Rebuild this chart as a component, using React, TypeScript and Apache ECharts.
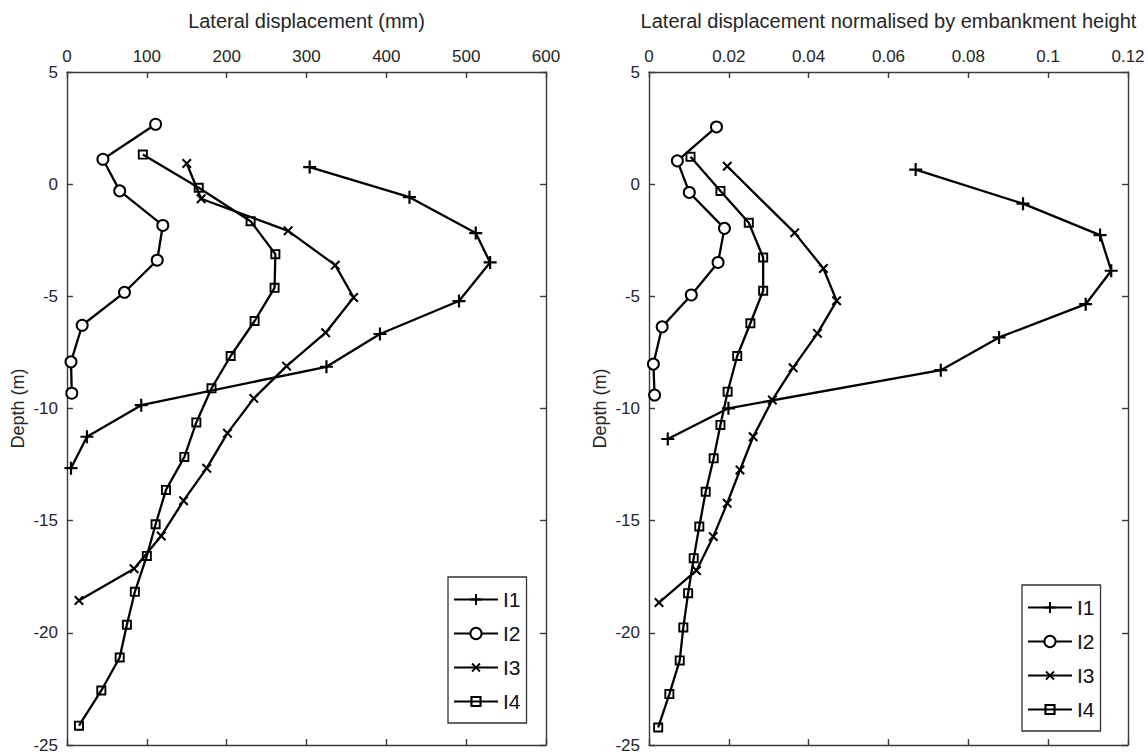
import React, { useEffect, useRef } from "react";
import * as echarts from "echarts";

// ---------- Data ----------
const SERIES_NAMES = ["I1", "I2", "I3", "I4"];

// Left panel: lateral displacement (mm) vs depth (m)
const L_I1_DEPTH = [0.76, -0.58, -2.18, -3.49, -5.21, -6.68, -8.14, -9.85, -11.26, -12.66];
const L_I1_MM = [304, 429, 512, 530, 491, 392, 325, 93, 25, 5];

const L_I2_DEPTH = [2.67, 1.11, -0.3, -1.84, -3.39, -4.82, -6.29, -7.92, -9.32];
const L_I2_MM = [111, 45, 66, 120, 113, 72, 19, 5, 6];

const L_I3_DEPTH = [0.92, -0.65, -2.08, -3.61, -5.05, -6.62, -8.11, -9.55, -11.1, -12.66, -14.11, -15.68, -17.14, -18.56];
const L_I3_MM = [150, 168, 277, 336, 359, 324, 275, 234, 201, 175, 146, 118, 84, 15];

const L_I4_DEPTH = [1.32, -0.16, -1.65, -3.12, -4.62, -6.1, -7.66, -9.1, -10.62, -12.16, -13.63, -15.16, -16.57, -18.17, -19.64, -21.1, -22.57, -24.14];
const L_I4_MM = [95, 165, 230, 261, 260, 235, 205, 181, 162, 147, 124, 111, 100, 85, 75, 66, 43, 15];

// Right panel: displacement normalised by embankment height vs depth (m)
const R_I1_DEPTH = [0.65, -0.87, -2.27, -3.86, -5.35, -6.83, -8.29, -9.99, -11.36];
const R_I1_NORM = [0.0668, 0.0937, 0.113, 0.1158, 0.1094, 0.0877, 0.0731, 0.0199, 0.0047];

const R_I2_DEPTH = [2.55, 1.04, -0.37, -1.97, -3.49, -4.94, -6.36, -8.02, -9.4];
const R_I2_NORM = [0.0169, 0.0071, 0.0101, 0.0189, 0.0173, 0.0106, 0.0033, 0.0011, 0.0014];

const R_I3_DEPTH = [0.8, -2.17, -3.76, -5.2, -6.65, -8.18, -9.62, -11.26, -12.74, -14.22, -15.71, -17.22, -18.65];
const R_I3_NORM = [0.0196, 0.0365, 0.0437, 0.047, 0.0422, 0.0361, 0.0309, 0.0261, 0.0228, 0.0196, 0.0161, 0.0119, 0.0025];

const R_I4_DEPTH = [1.22, -0.3, -1.72, -3.27, -4.75, -6.2, -7.66, -9.25, -10.73, -12.22, -13.71, -15.26, -16.67, -18.23, -19.76, -21.23, -22.73, -24.22];
const R_I4_NORM = [0.0104, 0.0179, 0.025, 0.0286, 0.0286, 0.0254, 0.0221, 0.0197, 0.0179, 0.0162, 0.0142, 0.0126, 0.0112, 0.0098, 0.0086, 0.0077, 0.0051, 0.0023];

// Axis ranges / tick spacing
const DEPTH_MIN = -25;
const DEPTH_MAX = 5;
const DEPTH_STEP = 5;
const MM_MIN = 0;
const MM_MAX = 600;
const MM_STEP = 100;
const NORM_MIN = 0;
const NORM_MAX = 0.12;
const NORM_STEP = 0.02;

const LEFT_X_TITLE = "Lateral displacement (mm)";
const RIGHT_X_TITLE = "Lateral displacement normalised by embankment height";
const Y_TITLE = "Depth (m)";

// ---------- Styling ----------
const FONT = "'Liberation Sans', Arial, Helvetica, sans-serif";
const AXIS_COLOR = "#3a3a3a";
const TEXT_COLOR = "#262626";

const PLUS = "path://M5.4,0H7.6V5.4H13V7.6H7.6V13H5.4V7.6H0V5.4H5.4Z";
const HOLLOW_SQUARE = "path://M0,0H10V10H0Z M1.9,1.9V8.1H8.1V1.9Z";

const MARKERS: Record<string, { symbol: string; size: number; rotate: number; filled: boolean }> = {
  I1: { symbol: PLUS, size: 13, rotate: 0, filled: true },
  I2: { symbol: "emptyCircle", size: 11, rotate: 0, filled: false },
  I3: { symbol: PLUS, size: 12, rotate: 45, filled: true },
  I4: { symbol: HOLLOW_SQUARE, size: 10, rotate: 0, filled: true },
};

const pair = (xs: number[], ys: number[]) => xs.map((x, i) => [x, ys[i]]);

function makeSeries(name: string, data: number[][], xi: number, yi: number) {
  const m = MARKERS[name];
  return {
    name,
    type: "line",
    xAxisIndex: xi,
    yAxisIndex: yi,
    data,
    symbol: m.symbol,
    symbolSize: m.size,
    symbolRotate: m.rotate,
    showAllSymbol: true,
    lineStyle: { color: "#000", width: 2.3 },
    itemStyle: { color: "#000", borderColor: "#000", borderWidth: m.filled ? 0 : 2 },
    emphasis: { disabled: true },
    z: 3,
  };
}

function xAxisPair(grid: number, min: number, max: number, step: number, title: string) {
  const common = {
    gridIndex: grid,
    type: "value",
    min,
    max,
    interval: step,
    splitLine: { show: false },
    axisLine: { show: true, onZero: false, lineStyle: { color: AXIS_COLOR, width: 1.4 } },
    axisTick: { show: true, inside: true, length: 6, lineStyle: { color: AXIS_COLOR, width: 1.4 } },
  };
  return [
    {
      ...common,
      position: "top",
      axisLabel: { show: true, fontSize: 17, color: TEXT_COLOR, margin: 7, fontFamily: FONT },
      name: title,
      nameLocation: "middle",
      nameGap: 41,
      nameTextStyle: { fontSize: 20, color: TEXT_COLOR, fontFamily: FONT },
    },
    { ...common, position: "bottom", axisLabel: { show: false } },
  ];
}

function yAxisPair(grid: number) {
  const common = {
    gridIndex: grid,
    type: "value",
    min: DEPTH_MIN,
    max: DEPTH_MAX,
    interval: DEPTH_STEP,
    splitLine: { show: false },
    axisLine: { show: true, onZero: false, lineStyle: { color: AXIS_COLOR, width: 1.4 } },
    axisTick: { show: true, inside: true, length: 6, lineStyle: { color: AXIS_COLOR, width: 1.4 } },
  };
  return [
    {
      ...common,
      position: "left",
      axisLabel: { show: true, fontSize: 17, color: TEXT_COLOR, margin: 9, fontFamily: FONT },
      name: Y_TITLE,
      nameLocation: "middle",
      nameGap: 40,
      nameRotate: 90,
      nameTextStyle: { fontSize: 18, color: TEXT_COLOR, fontFamily: FONT },
    },
    { ...common, position: "right", axisLabel: { show: false } },
  ];
}

function legendAt(left: number, top: number) {
  return {
    data: SERIES_NAMES,
    orient: "vertical",
    left,
    top,
    height: 140,
    padding: [12, 6, 11, 5],
    itemWidth: 44,
    itemHeight: 14,
    itemGap: 13,
    borderColor: "#333",
    borderWidth: 1.3,
    borderRadius: 0,
    backgroundColor: "#fff",
    selectedMode: false,
    textStyle: { fontSize: 21, color: "#111", fontFamily: FONT },
  };
}

export default function App() {
  const ref = useRef<HTMLDivElement>(null);

  useEffect(() => {
    document.body.style.margin = "0";
    if (!ref.current) return;
    const chart = echarts.init(ref.current, undefined, { renderer: "svg" });

    const option = {
      animation: false,
      backgroundColor: "#fff",
      textStyle: { fontFamily: FONT },
      grid: [
        { left: 67, top: 72, width: 479, height: 673 },
        { left: 649, top: 72, width: 479, height: 673 },
      ],
      xAxis: [
        ...xAxisPair(0, MM_MIN, MM_MAX, MM_STEP, LEFT_X_TITLE),
        ...xAxisPair(1, NORM_MIN, NORM_MAX, NORM_STEP, RIGHT_X_TITLE),
      ],
      yAxis: [...yAxisPair(0), ...yAxisPair(1)],
      legend: [legendAt(448, 577), legendAt(1022, 585)],
      series: [
        makeSeries("I1", pair(L_I1_MM, L_I1_DEPTH), 0, 0),
        makeSeries("I2", pair(L_I2_MM, L_I2_DEPTH), 0, 0),
        makeSeries("I3", pair(L_I3_MM, L_I3_DEPTH), 0, 0),
        makeSeries("I4", pair(L_I4_MM, L_I4_DEPTH), 0, 0),
        makeSeries("I1", pair(R_I1_NORM, R_I1_DEPTH), 2, 2),
        makeSeries("I2", pair(R_I2_NORM, R_I2_DEPTH), 2, 2),
        makeSeries("I3", pair(R_I3_NORM, R_I3_DEPTH), 2, 2),
        makeSeries("I4", pair(R_I4_NORM, R_I4_DEPTH), 2, 2),
      ],
    };

    chart.setOption(option as any);
    return () => chart.dispose();
  }, []);

  return (
    <div
      ref={ref}
      style={{ position: "absolute", left: 0, top: 0, width: 1148, height: 756, background: "#fff" }}
    />
  );
}
